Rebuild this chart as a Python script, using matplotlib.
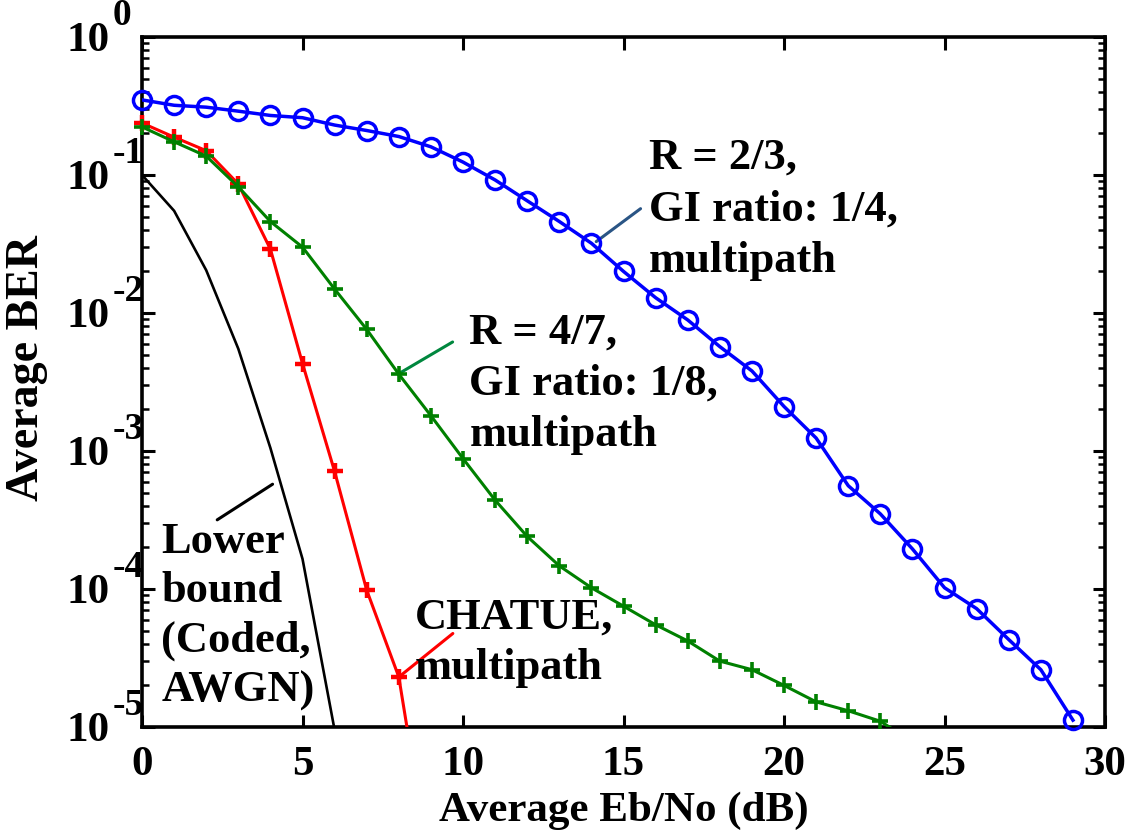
import numpy as np
import matplotlib
matplotlib.use("Agg")
import matplotlib.pyplot as plt
from matplotlib import transforms

# BER curves
snr_blue = list(range(0, 30))
ber_blue = [0.35, 0.32, 0.31, 0.29, 0.27, 0.26, 0.23, 0.21, 0.19, 0.16,
            0.124, 0.092, 0.065, 0.046, 0.032, 0.020, 0.0129, 0.0089, 0.0057, 0.0038,
            0.0021, 0.00124, 0.00056, 0.00035, 0.000195, 0.000102, 7.2e-5, 4.3e-5, 2.6e-5, 1.12e-5]

snr_green = list(range(0, 25))
ber_green = [0.223, 0.174, 0.137, 0.082, 0.046, 0.030, 0.0149, 0.0076, 0.0036, 0.0018,
             0.00088, 0.00044, 0.00024, 0.000147, 0.000102, 7.5e-5, 5.5e-5, 4.2e-5, 3.0e-5, 2.6e-5,
             2.0e-5, 1.52e-5, 1.31e-5, 1.1e-5, 7.8e-6]

snr_red = list(range(0, 10))
ber_red = [0.238, 0.188, 0.150, 0.086, 0.029, 0.0043, 0.00071, 9.8e-5, 2.3e-5, 8.5e-7]

snr_bound = list(range(0, 7))
ber_bound = [0.1, 0.055, 0.0204, 0.0055, 0.00105, 1.65e-4, 9.5e-6]

xticks = [0, 5, 10, 15, 20, 25, 30]
yticks = [1e-5, 1e-4, 1e-3, 1e-2, 1e-1, 1e0]
ytick_exps = ['-5', '-4', '-3', '-2', '-1', '0']

plt.rcParams['font.family'] = ['Liberation Serif', 'DejaVu Serif']
plt.rcParams['font.weight'] = 'bold'
plt.rcParams['font.size'] = 31

fig = plt.figure(figsize=(11.37, 8.33), dpi=100)
ax = fig.add_axes([0.1249, 0.1273, 0.8470, 0.8283])

ymin = 1e-5


def plot_curve(x, y, color, marker=None, ms=10, mew=2.5, lw=2.2, z=2):
    # line clipped to the axes, markers only where the point is inside the range
    ax.plot(x, y, color=color, lw=lw, zorder=z)
    if marker:
        xa = np.array(x)
        ya = np.array(y)
        keep = ya >= ymin * 0.99
        ax.plot(xa[keep], ya[keep], ls='none', marker=marker, color=color,
                ms=ms, mew=mew, mfc='none', clip_on=False, zorder=z)


plot_curve(snr_bound, ber_bound, 'black', lw=1.9, z=2)
plot_curve(snr_red, ber_red, '#ff0000', marker='+', ms=12, mew=3.2, z=3)
plot_curve(snr_green, ber_green, '#008000', marker='+', ms=11, mew=2.6, z=4)
plot_curve(snr_blue, ber_blue, '#0000ff', marker='o', ms=13, mew=2.5, lw=2.5, z=5)

ax.set_yscale('log')
ax.set_xlim(0, 30)
ax.set_ylim(1e-5, 1)
ax.set_xticks(xticks)
ax.set_xticklabels([str(t) for t in xticks])
ax.set_yticks(yticks)
ax.set_yticklabels(['10'] * len(yticks))
ax.yaxis.set_minor_locator(matplotlib.ticker.LogLocator(base=10, subs=np.arange(2, 10), numticks=20))
ax.yaxis.set_minor_formatter(matplotlib.ticker.NullFormatter())

ax.tick_params(axis='both', which='major', direction='in', length=9, width=2.2,
               top=True, right=True, labelsize=31)
ax.tick_params(axis='y', which='minor', direction='in', length=5, width=1.8,
               left=True, right=True)
ax.tick_params(axis='x', which='major', pad=14)
ax.tick_params(axis='y', which='major', pad=23)
for s in ax.spines.values():
    s.set_linewidth(2.6)

# exponents of the y tick labels, MATLAB style (large, raised)
exp_tr = transforms.offset_copy(ax.get_yaxis_transform(), fig=fig, x=0, y=21, units='dots')
for t, e in zip(yticks, ytick_exps):
    ax.text(-0.031, t, e, transform=exp_tr, fontsize=27, fontweight='bold',
            ha='left', va='center', clip_on=False)

ax.set_xlabel('Average Eb/No (dB)', fontsize=31, fontweight='bold')
ax.set_ylabel('Average BER', fontsize=33, fontweight='bold')
ax.xaxis.set_label_coords(0.5, -0.094)
ax.yaxis.set_label_coords(-0.098, 0.52)

# annotations with leader lines
ax.annotate('', xy=(14.08, 0.032), xytext=(15.6, 0.0586),
            arrowprops=dict(arrowstyle='-', color='#2a5585', lw=2.2))
ax.text(15.8, 10 ** -1.25, 'R = 2/3,\nGI ratio: 1/4,\nmultipath', fontsize=32,
        fontweight='bold', ha='left', va='center', linespacing=1.38)

ax.annotate('', xy=(7.97, 0.0036), xytext=(9.75, 10 ** -2.2),
            arrowprops=dict(arrowstyle='-', color='#00873e', lw=2.2))
ax.text(10.2, 10 ** -2.51, 'R = 4/7,\nGI ratio: 1/8,\nmultipath', fontsize=32,
        fontweight='bold', ha='left', va='center', linespacing=1.36)

ax.annotate('', xy=(4.14, 10 ** -3.23), xytext=(2.27, 10 ** -3.51),
            arrowprops=dict(arrowstyle='-', color='black', lw=2.2))
ax.text(0.6, 10 ** -4.2, 'Lower\nbound\n(Coded,\nAWGN)', fontsize=32,
        fontweight='bold', ha='left', va='center', linespacing=1.31)

ax.annotate('', xy=(8.0, 2.3e-5), xytext=(9.75, 10 ** -4.31),
            arrowprops=dict(arrowstyle='-', color='#ff0000', lw=2.2))
ax.text(8.5, 10 ** -4.39, 'CHATUE,\nmultipath', fontsize=32,
        fontweight='bold', ha='left', va='center', linespacing=1.33)

fig.savefig('out.png', dpi=100)
